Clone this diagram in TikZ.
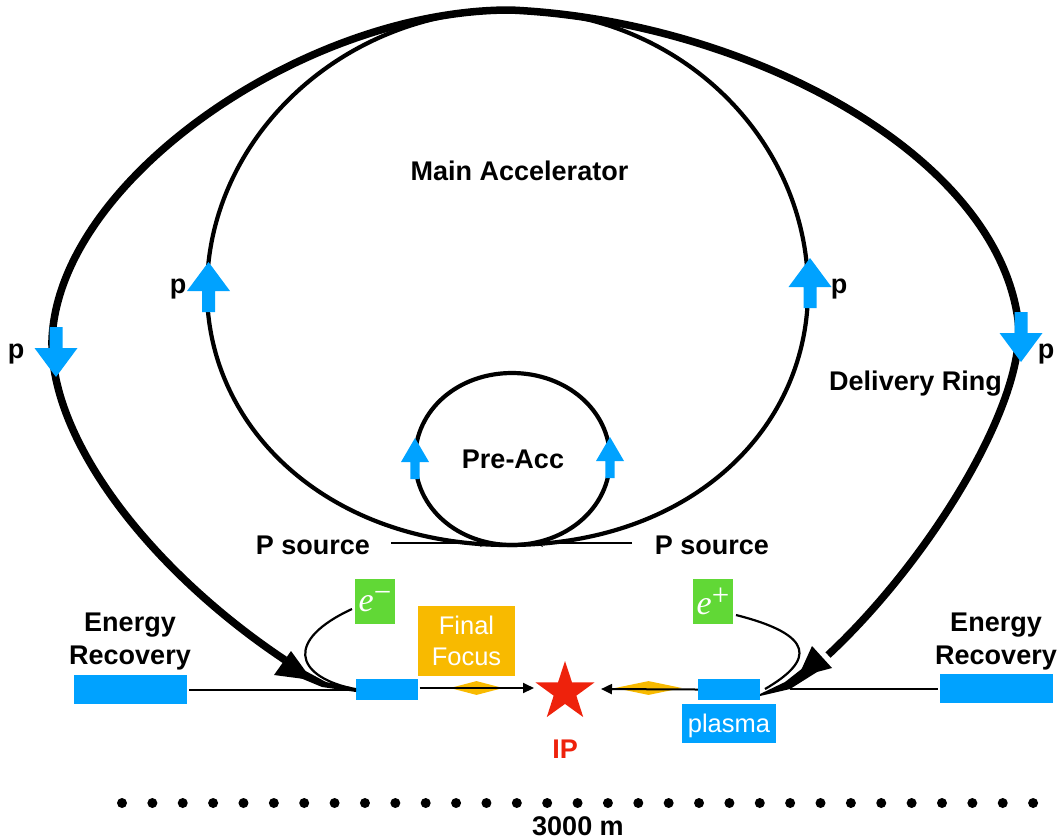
\documentclass[tikz,border=0pt]{standalone}
\usepackage{fontspec}
\setmainfont{Liberation Sans}
\newfontfamily\ser{Liberation Serif}
\usetikzlibrary{shapes.geometric,arrows.meta}
\definecolor{bl}{HTML}{00A2FF}
\definecolor{gr}{HTML}{61D836}
\definecolor{or}{HTML}{F8BA00}
\definecolor{rd}{HTML}{EE220C}
\tikzset{
 lbl/.style={font=\fontsize{27}{33}\selectfont\bfseries,align=center,text=black,inner sep=0pt},
 box/.style={fill=#1,inner sep=0pt,text=white,align=center,font=\fontsize{25.5}{31}\selectfont},
 ring/.style={line width=4.2pt,black},
 thin line/.style={line width=2.2pt,black},
 tip/.style={-{Stealth[length=11pt,width=10pt,inset=0pt]}}
}
\newcommand{\upar}[2]{\fill[bl] (#1-6.5,#2+50)--(#1+6.5,#2+50)--(#1+6.5,#2+29)--(#1+21.5,#2+29)--(#1,#2)--(#1-21.5,#2+29)--(#1-6.5,#2+29)--cycle;}
\newcommand{\dnar}[2]{\fill[bl] (#1-6.5,#2-50)--(#1+6.5,#2-50)--(#1+6.5,#2-29)--(#1+21.5,#2-29)--(#1,#2)--(#1-21.5,#2-29)--(#1-6.5,#2-29)--cycle;}
\newcommand{\smar}[2]{\fill[bl] (#1-4.7,#2+41)--(#1+4.7,#2+41)--(#1+4.7,#2+24)--(#1+14,#2+24)--(#1,#2)--(#1-14,#2+24)--(#1-4.7,#2+24)--cycle;}
\newcommand{\elec}[1]{{\ser\fontsize{34}{34}\selectfont\itshape e\upshape\raisebox{9pt}{\fontsize{31}{31}\selectfont #1}}}
\begin{document}
\begin{tikzpicture}[x=1pt,y=-1pt]
\useasboundingbox (0,0) rectangle (1059,839);
% P source lines
\node[lbl] (psl) at (313,545) {P source};
\node[lbl] (psr) at (712,545) {P source};
\coordinate (psa) at (489,543);
\coordinate (psb) at (534,543);
\draw[line width=1.8pt,-{Stealth[length=9pt,width=8pt]}] (391,543) -- (psa);
\draw[line width=1.8pt,-{Stealth[length=9pt,width=8pt]}] (632,543) -- (psb);
% main accelerator
\draw[ring] (508,545) .. controls (330,545) and (207,430) .. (207,290)
 .. controls (207,140) and (340,10) .. (510,10)
 .. controls (680,10) and (808,140) .. (808,290)
 .. controls (808,430) and (690,545) .. (508,545) -- cycle;
% pre-acc
\draw[ring] (512,373) .. controls (458,373) and (415,410) .. (415,459)
 .. controls (415,508) and (458,545) .. (512,545)
 .. controls (566,545) and (610,508) .. (610,459)
 .. controls (610,410) and (566,373) .. (512,373) -- cycle;
% boxes at the beam line
\node[box=bl,minimum width=62pt,minimum height=21pt] (bl1) at (387,689.5) {};
\node[box=bl,minimum width=62pt,minimum height=21pt] (bl2) at (729,689.5) {};
\coordinate (dl) at (356,688);
\coordinate (dr) at (760,694);
% delivery ring
\draw[line width=7.5pt] (510,10) .. controls (305,10) and (58,180) .. (52,340)
 .. controls (50,440) and (150,570) .. (285,660);
\draw[line width=7.5pt] (510,10) .. controls (740,20) and (995,150) .. (1018,320)
 .. controls (1028,400) and (930,560) .. (828,655);
\fill (291,651)--(274,675)--(312,680)--cycle;
\fill (300,668)--(326,682)--(dl)--(356,692)--(322,687)--(298,677)--cycle;
\fill (812,646)--(832,668)--(798,677)--cycle;
\fill (808,664)--(817,672)--(790,689)--(760,696)--(dr)--(785,682)--cycle;
% remaining boxes
\node[box=bl,minimum width=113pt,minimum height=29pt] (erl) at (130.5,689.5) {};
\node[box=bl,minimum width=113pt,minimum height=29pt] (err) at (996.5,688.5) {};
\node[box=or,minimum width=97pt,minimum height=70pt] (ff) at (466.5,641) {Final\\Focus};
\node[box=gr,minimum width=40pt,minimum height=45pt] (em) at (375,601.5) {\elec{−}};
\node[box=gr,minimum width=40pt,minimum height=45pt] (ep) at (713,601.5) {\elec{+}};
\node[box=bl,minimum width=94pt,minimum height=39pt] (pl) at (729,723.5) {\smash{\raisebox{-8.5pt}{plasma}}};
\node[star,star points=5,star point ratio=2.6,fill=rd,inner sep=0pt,minimum size=62pt] (ip) at (565,692) {};
\node[lbl,text=rd] (iplab) at (565,749) {IP};
\node[diamond,fill=or,aspect=3.8,inner sep=0pt,minimum width=53pt,minimum height=14pt] (d1) at (476.5,688) {};
\node[diamond,fill=or,aspect=4.8,inner sep=0pt,minimum width=67pt,minimum height=14pt] (d2) at (648.5,688) {};
% connectors
\draw[line width=2pt] (erl.east)++(2,0) -- (bl1.west);
\draw[line width=2pt] (790,688.5) -- ([xshift=-2pt]err.west);
\draw[line width=2pt,tip] (419.5,688) -- (534,688);
\draw[line width=2pt,tip] (bl2.west) -- (601,689);
\draw[thin line] (352,609) .. controls (285,640) and (295,675) .. (350,688);
\draw[thin line] (736,615) .. controls (815,635) and (815,660) .. (765,689);
% blue arrows
\upar{208.5}{262}
\upar{810}{258}
\dnar{56}{377}
\dnar{1021}{362}
\smar{415}{438}
\smar{610}{437}
% labels
\node[lbl] (ma) at (519.5,171) {Main Accelerator};
\node[lbl] (pa) at (513,459) {Pre-Acc};
\node[lbl] (dr2) at (915.5,384) {Delivery Ring};
\node[lbl] (p1) at (16,354) {p};
\node[lbl] (p2) at (178,289) {p};
\node[lbl] (p3) at (839,289) {p};
\node[lbl] (p4) at (1046,354) {p};
\node[lbl] (el) at (130,641) {Energy\\Recovery};
\node[lbl] (er) at (996,641) {Energy\\Recovery};
\node[inner sep=0pt,font=\fontsize{27}{33}\selectfont\bfseries] (km) at (578,826) {3000 m};
% dots
\foreach \i in {0,...,30} \fill (122+\i*30.37,803) circle (5pt);
\end{tikzpicture}
\end{document}
